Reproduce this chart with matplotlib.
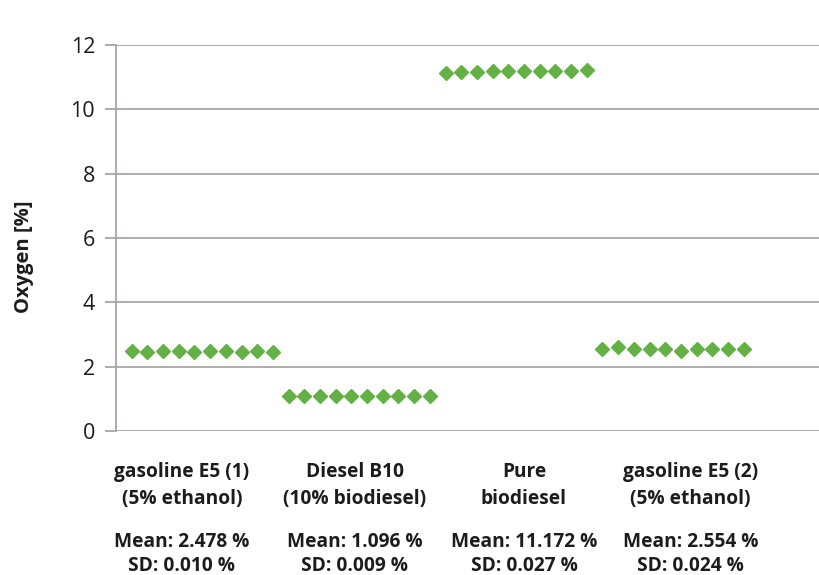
import matplotlib.pyplot as plt
from matplotlib import transforms

# oxygen content per measurement, 10 repeats per fuel sample
e5_first = [2.49, 2.47, 2.48, 2.48, 2.47, 2.48, 2.49, 2.47, 2.48, 2.47]
diesel_b10 = [1.10, 1.09, 1.10, 1.10, 1.09, 1.10, 1.09, 1.10, 1.10, 1.09]
pure_biodiesel = [11.12, 11.15, 11.16, 11.18, 11.18, 11.18, 11.18, 11.19, 11.19, 11.21]
e5_second = [2.55, 2.60, 2.56, 2.56, 2.55, 2.50, 2.55, 2.56, 2.55, 2.54]

cat_line1 = ["gasoline E5 (1)", "Diesel B10", "Pure", "gasoline E5 (2)"]
cat_line2 = ["(5% ethanol)", "(10% biodiesel)", "biodiesel", "(5% ethanol)"]
means = ["2.478", "1.096", "11.172", "2.554"]
sds = ["0.010", "0.009", "0.027", "0.024"]
label_x = [4.2, 15.2, 26.0, 36.6]
yticks = [0, 2, 4, 6, 8, 10, 12]

plt.rcParams['font.family'] = ['Open Sans', 'DejaVu Sans']

green = '#63b045'
grid = '#a9a5a5'
ink = '#1c1c1c'

W, H = 819, 575
fig = plt.figure(figsize=(W / 100, H / 100), dpi=100)
ax = fig.add_axes([116 / W, 1 - 431 / H, 1 - 116 / W, 386 / H])

values = e5_first + diesel_b10 + pure_biodiesel + e5_second
xs = list(range(1, len(values) + 1))
ax.plot(xs, values, linestyle='none', marker='D', markersize=7.5,
        color=green, markeredgecolor=green, zorder=3)

ax.set_xlim(0, 44.8)
ax.set_ylim(0, 12)
ax.set_yticks(yticks)
ax.set_xticks([])
ax.yaxis.grid(True, color=grid, linewidth=1.3)
ax.set_axisbelow(True)
for side in ['top', 'right', 'bottom']:
    ax.spines[side].set_visible(False)
ax.spines['left'].set_color(grid)
ax.spines['left'].set_linewidth(1.3)
ax.tick_params(axis='y', length=8, width=1.3, color=grid, labelsize=15.5,
               labelcolor=ink, pad=7)
ax.set_ylabel("Oxygen [%]", fontsize=14.5, fontweight='bold', color=ink)
ax.yaxis.set_label_coords(24 / W, 1 - 257 / H, transform=fig.transFigure)
ax.yaxis.label.set_verticalalignment('center')

# category names and summary statistics under the axis
tr = transforms.blended_transform_factory(ax.transData, fig.transFigure)
for x, l1, l2, m, s in zip(label_x, cat_line1, cat_line2, means, sds):
    for text, base in [(l1, 477), (l2, 504), (f"Mean: {m} %", 547), (f"SD: {s} %", 571)]:
        ax.text(x, 1 - base / H, text, transform=tr, ha='center', va='baseline',
                fontsize=13.8, fontweight='bold', color=ink)

fig.savefig('out.png', dpi=100)
